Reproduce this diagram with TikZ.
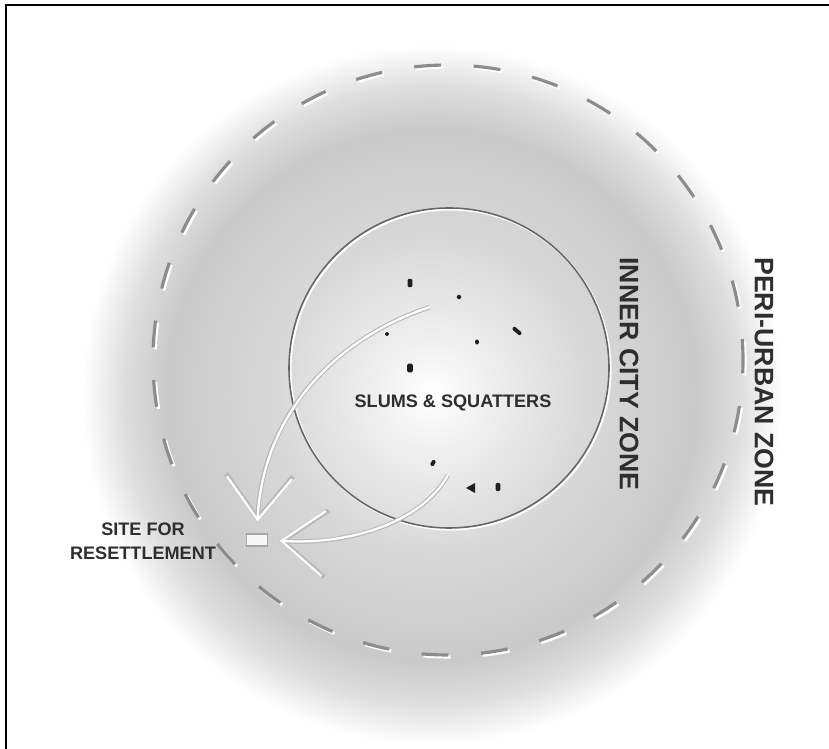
\documentclass[tikz,border=0pt]{standalone}
\usepackage{fontspec}
\setmainfont{Liberation Sans}
\usetikzlibrary{arrows.meta}
\pgfdeclareradialshading{zoneglow}{\pgfpoint{0bp}{0bp}}{color(0bp)=(white); color(4bp)=(black!6); color(11bp)=(black!15); color(19bp)=(black!21); color(22bp)=(black!13); color(25bp)=(white); color(50bp)=(white)}

\begin{document}
\begin{tikzpicture}[x=0.02cm, y=-0.02cm, every node/.style={text=black!82},
  zone/.style={font=\fontsize{15.2}{16}\selectfont\bfseries, rotate=-90},
  lbl/.style={font=\fontsize{10.3}{13.6}\selectfont\bfseries, align=center},
  hut/.style={fill=black!88, inner sep=0, rounded corners=0.7pt},
  move/.style={draw=black!28, line width=2.6pt, shorten >=6pt, -{Straight Barb[length=25pt,width=38pt]}},
  moveface/.style={draw=white, line width=1.3pt, shorten >=6.5pt, -{Straight Barb[length=24pt,width=37pt]}},
  ring/.style={line width=1.8pt, dash pattern=on 15.3pt off 18.6pt, dash phase=7.65pt}]
\useasboundingbox (0,0) rectangle (829,749);
\fill[white] (0,0) rectangle (829,749);
\shade[shading=zoneglow] (432,395) circle (350);
\draw[line width=1.5pt] (6,749) -- (6,5) -- (829,5);
\coordinate (city) at (448,360);
\coordinate (core) at (449,368);
% zones
\draw[ring, white] ([shift={(2,2)}]city) circle (295);
\draw[ring, black!45] (city) circle (295);
\draw[white, line width=1.2pt] ([shift={(1.5,1.5)}]core) circle (160);
\draw[black!60, line width=0.9pt] (core) circle (160);
% site and movements
\node[draw=black!35, fill=black!3, line width=0.8pt, minimum width=12pt, minimum height=7pt, inner sep=0] (site) at (257,540) {};
\coordinate (from1) at (430,307);
\coordinate (from2) at (448,475);
\draw[move] (from1) .. controls (330,340) and (262,420) .. (site.north);
\draw[moveface] (from1) .. controls (330,340) and (262,420) .. (site.north);
\draw[move] (from2) .. controls (420,525) and (345,545) .. (site.east);
\draw[moveface] (from2) .. controls (420,525) and (345,545) .. (site.east);
% huts
\foreach \x/\y/\w/\h in {410/283/2.8/4.8, 459/297/2.4/2.4, 387/334/2/2, 477/342/2/2.6, 410/368/3.2/5, 498/487/2.6/4.6}
  \node[hut, minimum width=\w pt, minimum height=\h pt] (hut\x) at (\x,\y) {};
\node[hut, minimum width=6pt, minimum height=2.2pt, rotate=-40] (hut517) at (517,331) {};
\node[hut, minimum width=2.2pt, minimum height=3.6pt, rotate=-30] (hut433) at (433,463) {};
\fill[black!88] (466,488) -- (475,483) -- (475,493) -- cycle;
% labels
\node[lbl] (slums) at (453,403) {SLUMS \& SQUATTERS};
\node[zone] (inner) at (629,374) {INNER CITY ZONE};
\node[zone] (peri) at (764,382) {PERI-URBAN ZONE};
\node[lbl] (sitetxt) at (143,541) {SITE FOR\\RESETTLEMENT};
\end{tikzpicture}
\end{document}
